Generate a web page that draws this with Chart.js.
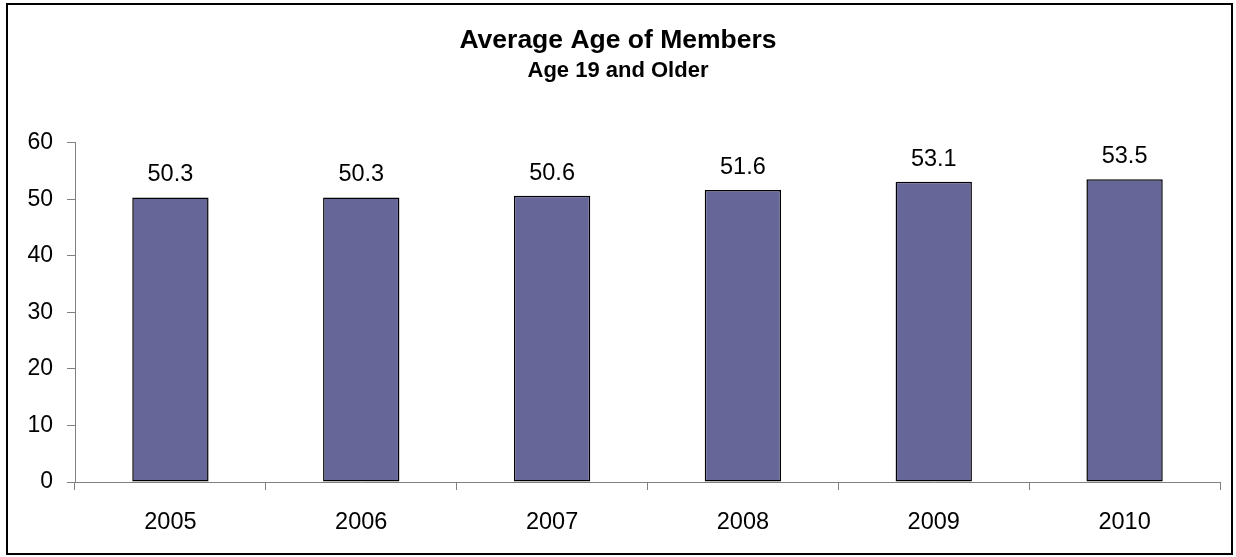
<!DOCTYPE html>
<html>
<head>
<meta charset="utf-8">
<script src="https://cdn.jsdelivr.net/npm/chart.js@4.4.1/dist/chart.umd.min.js"></script>
<style>
  html, body { margin: 0; padding: 0; background: #fff; }
  #wrap { width: 1236px; height: 557px; position: relative; }
</style>
</head>
<body>
<div id="wrap"><canvas id="myChart" width="1236" height="557"></canvas></div>
<script>
// chart data
var years = ['2005', '2006', '2007', '2008', '2009', '2010'];
var avgAge = [50.3, 50.3, 50.6, 51.6, 53.1, 53.5];
var yTicks = [0, 10, 20, 30, 40, 50, 60];

var fontFamily = '"Liberation Sans", Arial, sans-serif';

// value labels above bars + outer frame
var labelsPlugin = {
  id: 'barLabels',
  afterDatasetsDraw: function(chart) {
    var ctx = chart.ctx;
    var meta = chart.getDatasetMeta(0);
    ctx.save();
    ctx.font = '23.5px ' + fontFamily;
    ctx.fillStyle = '#000';
    ctx.textAlign = 'center';
    ctx.textBaseline = 'alphabetic';
    meta.data.forEach(function(bar, i) {
      ctx.fillText(avgAge[i].toFixed(1), bar.x, bar.y - 16);
    });
    ctx.restore();
  },
  afterDraw: function(chart) {
    var ctx = chart.ctx;
    ctx.save();
    ctx.strokeStyle = '#000';
    ctx.lineWidth = 2;
    ctx.strokeRect(7, 4, 1225, 550);
    ctx.restore();
  }
};

var ctx = document.getElementById('myChart').getContext('2d');
var myChart = new Chart(ctx, {
  type: 'bar',
  data: {
    labels: years,
    datasets: [{
      label: 'Average Age',
      data: avgAge,
      backgroundColor: '#666699',
      borderColor: '#000',
      borderWidth: 1.5,
      borderSkipped: false,
      categoryPercentage: 1.0,
      barPercentage: 0.4
    }]
  },
  options: {
    responsive: false,
    animation: false,
    devicePixelRatio: 1,
    // symmetric padding keeps the title centred on the page
    layout: { padding: { left: 2, right: 2, top: 0, bottom: 0 } },
    plugins: {
      legend: { display: false },
      tooltip: { enabled: false },
      title: {
        display: true,
        text: 'Average Age of Members',
        color: '#000',
        font: { family: fontFamily, size: 26.5, weight: 'bold' },
        padding: { top: 25, bottom: 1 }
      },
      subtitle: {
        display: true,
        text: 'Age 19 and Older',
        color: '#000',
        font: { family: fontFamily, size: 22, weight: 'bold' },
        padding: { top: 0, bottom: 58.4 }
      }
    },
    scales: {
      x: {
        grid: {
          display: true,
          offset: true,
          drawOnChartArea: false,
          drawTicks: true,
          tickLength: 8,
          color: '#808080'
        },
        border: { display: true, color: '#808080', width: 1 },
        ticks: {
          color: '#000',
          font: { family: fontFamily, size: 23.5 },
          padding: 18,
          maxRotation: 0
        },
        afterFit: function(axis) { axis.height = 75; }
      },
      y: {
        min: 0,
        max: 60,
        afterBuildTicks: function(axis) {
          axis.ticks = yTicks.map(function(v) { return { value: v }; });
        },
        grid: {
          display: true,
          drawOnChartArea: false,
          drawTicks: true,
          tickLength: 8,
          color: '#808080'
        },
        border: { display: true, color: '#808080', width: 1 },
        ticks: {
          color: '#000',
          font: { family: fontFamily, size: 23 },
          padding: 14
        },
        afterFit: function(axis) { axis.width = 73; }
      },
      // empty spacer on the right so the plot ends at the same place
      spacer: {
        type: 'linear',
        position: 'right',
        display: true,
        grid: { display: false, drawTicks: false },
        border: { display: false },
        ticks: { display: false },
        afterFit: function(axis) { axis.width = 14; }
      }
    }
  },
  plugins: [labelsPlugin]
});
</script>
</body>
</html>
